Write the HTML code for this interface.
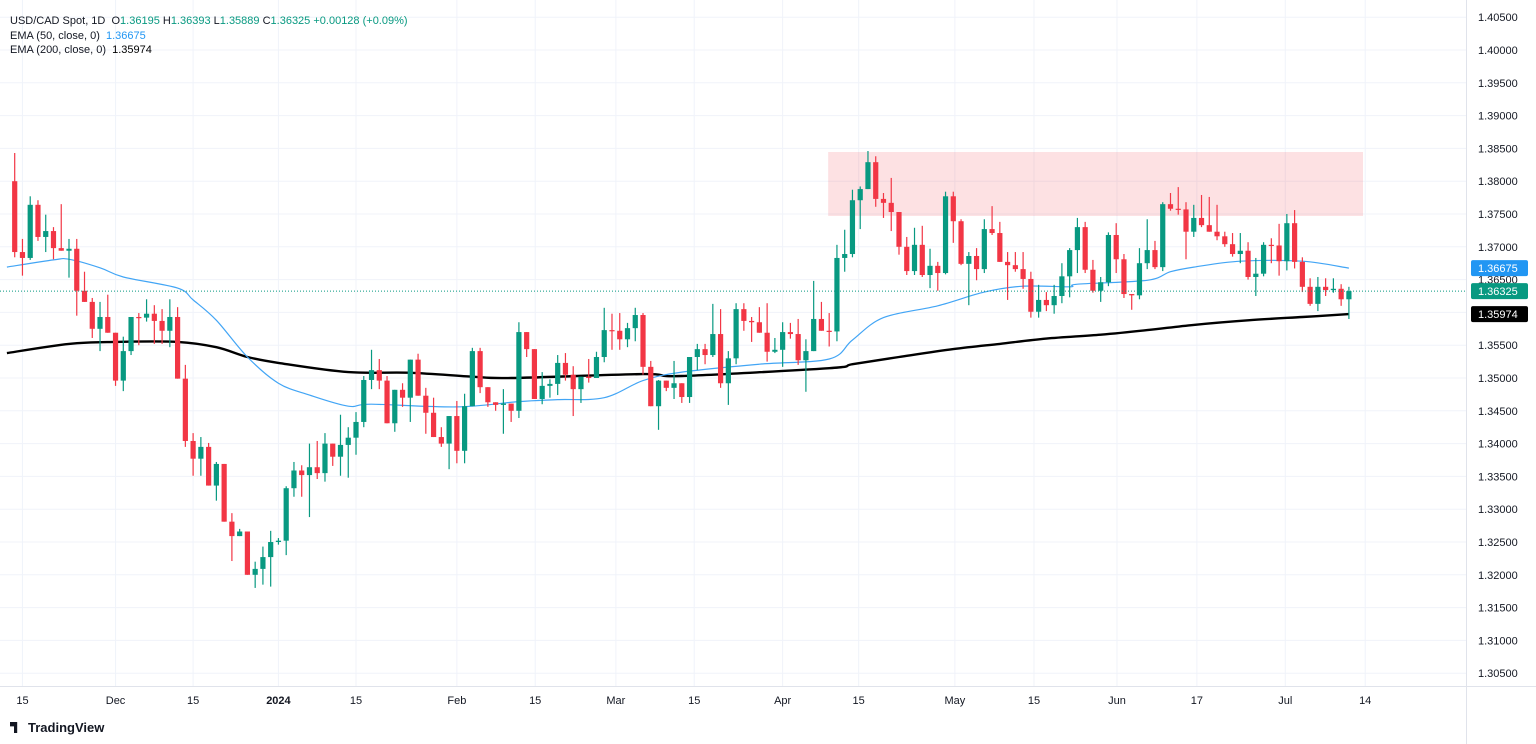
<!DOCTYPE html>
<html><head><meta charset="utf-8">
<style>
html,body{margin:0;padding:0;background:#fff;}
body{width:1536px;height:744px;overflow:hidden;position:relative;font-family:"Liberation Sans",sans-serif;}
#chart{position:absolute;left:0;top:0;}
.hdr{position:absolute;left:10px;font-size:11px;color:#131722;white-space:nowrap;}
.v{color:#089981;}
</style></head>
<body>
<svg id="chart" width="1536" height="744" xmlns="http://www.w3.org/2000/svg"></svg>
<div class="hdr" style="top:15px">USD/CAD Spot, 1D &nbsp;O<span class="v">1.36195</span> H<span class="v">1.36393</span> L<span class="v">1.35889</span> C<span class="v">1.36325</span> <span class="v">+0.00128 (+0.09%)</span></div>
<div class="hdr" style="top:30px">EMA (50, close, 0) &nbsp;<span style="color:#2196f3">1.36675</span></div>
<div class="hdr" style="top:44px">EMA (200, close, 0) &nbsp;<span style="color:#000">1.35974</span></div>
<div style="position:absolute;left:10px;top:720px;font-size:13px;color:#131722;font-weight:bold;display:flex;align-items:center;gap:4px"><span style="display:inline-block;width:16px;height:11px;background:#131722;clip-path:polygon(0 0,45% 0,45% 100%,25% 100%,25% 40%,0 40%,0 0,0 0);"></span><span style="margin-left:-2px">TradingView</span></div>
<script>
const closes=[1.3692,1.3683,1.3764,1.3715,1.3724,1.3698,1.3694,1.3697,1.3633,1.3616,1.3575,1.3593,1.3569,1.3496,1.3541,1.3593,1.3592,1.3598,1.3587,1.3572,1.3593,
1.3499,1.3404,1.3377,1.3395,1.3336,1.3369,1.3281,1.3259,1.3266,1.3200,1.3209,1.3227,1.3250,1.3252,1.3332,1.3359,1.3352,1.3364,1.3355,1.3400,1.3380,1.3398,
1.3409,1.3433,1.3497,1.3512,1.3496,1.3431,1.3482,1.3470,1.3528,1.3473,1.3447,1.3410,1.3400,1.3442,1.3389,1.3457,1.3541,1.3486,1.3463,1.3459,1.3461,1.3450,
1.3570,1.3544,1.3468,1.3488,1.3491,1.3523,1.3505,1.3483,1.3502,1.3500,1.3532,1.3573,1.3572,1.3559,1.3576,1.3596,1.3517,1.3457,1.3496,1.3485,1.3492,1.3471,
1.3532,1.3544,1.3535,1.3567,1.3492,1.3530,1.3605,1.3587,1.3585,1.3569,1.3540,1.3543,1.3570,1.3567,1.3527,1.3541,1.3590,1.3572,1.3571,1.3683,1.3689,1.3771,
1.3788,1.3829,1.3773,1.3767,1.3753,1.3700,1.3663,1.3703,1.3657,1.3671,1.3660,1.3777,1.3739,1.3674,1.3686,1.3666,1.3727,1.3721,1.3677,1.3672,1.3666,1.3651,
1.3601,1.3619,1.3611,1.3625,1.3655,1.3695,1.3730,1.3665,1.3633,1.3646,1.3718,1.3681,1.3628,1.3626,1.3675,1.3695,1.3669,1.3765,1.3758,1.3757,1.3723,
1.3744,1.3733,1.3723,1.3716,1.3704,1.3689,1.3694,1.3654,1.3659,1.3703,1.3702,1.3678,1.3736,1.3677,1.3639,1.3613,1.3639,1.3634,1.3636,1.3620,1.36325];
const highs=[1.3843,1.3712,1.3777,1.3771,1.3749,1.3730,1.3765,1.3712,1.3712,1.3662,1.3622,1.3616,1.3627,1.3569,1.3563,1.3593,1.3599,1.3620,1.3611,1.3605,1.3620,
1.3608,1.3520,1.3416,1.3410,1.3401,1.3372,1.3369,1.3294,1.3270,1.3266,1.3220,1.3243,1.3267,1.3256,1.3335,1.3372,1.3367,1.3400,1.3404,1.3416,1.3400,1.3444,
1.3425,1.3448,1.3503,1.3543,1.3529,1.3503,1.3482,1.3492,1.3528,1.3537,1.3485,1.3470,1.3425,1.3442,1.3465,1.3476,1.3546,1.3546,1.3486,1.3463,1.3483,1.3461,
1.3585,1.3570,1.3544,1.3509,1.3498,1.3535,1.3538,1.3518,1.3502,1.3529,1.3540,1.3607,1.3598,1.3599,1.3584,1.3607,1.3599,1.3526,1.3497,1.3496,1.3526,1.3492,
1.3532,1.3552,1.3552,1.3613,1.3605,1.3541,1.3614,1.3614,1.3593,1.3608,1.3614,1.3561,1.3585,1.3584,1.3590,1.3559,1.3648,1.3616,1.3599,1.3703,1.3726,1.3787,
1.3792,1.3846,1.3838,1.3782,1.3805,1.3753,1.3715,1.3729,1.3732,1.3697,1.3677,1.3784,1.3784,1.3742,1.3692,1.3698,1.3742,1.3762,1.3738,1.3692,1.3692,1.3692,
1.3662,1.3642,1.3631,1.3642,1.3675,1.3698,1.3744,1.3738,1.3680,1.3654,1.3722,1.3736,1.3689,1.3628,1.3698,1.3742,1.3709,1.3768,1.3782,1.3791,1.3768,
1.3764,1.3779,1.3776,1.3764,1.3723,1.3721,1.3721,1.3707,1.3683,1.3707,1.3713,1.3735,1.3750,1.3756,1.3684,1.3652,1.3654,1.3652,1.3652,1.3643,1.3639];
const lows=[1.3684,1.3656,1.3680,1.3709,1.3692,1.3681,1.3694,1.3653,1.3595,1.3616,1.3561,1.3541,1.3569,1.3488,1.3480,1.3535,1.3550,1.3586,1.3552,1.3552,1.3547,
1.3499,1.3395,1.3351,1.3351,1.3336,1.3313,1.3281,1.3221,1.3262,1.3200,1.3180,1.3185,1.3182,1.3246,1.3230,1.3319,1.3319,1.3288,1.3346,1.3342,1.3366,1.3351,
1.3348,1.3383,1.3425,1.3483,1.3483,1.3431,1.3418,1.3456,1.3433,1.3473,1.3415,1.3410,1.3395,1.3361,1.3370,1.3370,1.3463,1.3477,1.3456,1.3450,1.3415,1.3433,
1.3439,1.3532,1.3468,1.3460,1.3470,1.3474,1.3496,1.3442,1.3462,1.3493,1.3500,1.3524,1.3543,1.3543,1.3547,1.3556,1.3505,1.3457,1.3421,1.3480,1.3468,1.3462,
1.3462,1.3512,1.3521,1.3532,1.3485,1.3459,1.3521,1.3572,1.3555,1.3569,1.3525,1.3538,1.3517,1.3560,1.3520,1.3479,1.3541,1.3572,1.3548,1.3556,1.3662,1.3684,
1.3727,1.3788,1.3761,1.3744,1.3724,1.3688,1.3657,1.3657,1.3654,1.3637,1.3633,1.3658,1.3706,1.3672,1.3611,1.3649,1.3660,1.3718,1.3677,1.3619,1.3662,1.3636,
1.3592,1.3592,1.3602,1.3598,1.3614,1.3623,1.3660,1.3660,1.3630,1.3616,1.3640,1.3660,1.3622,1.3604,1.3620,1.3666,1.3666,1.3663,1.3755,1.3749,1.3681,
1.3715,1.3730,1.3723,1.3710,1.3700,1.3685,1.3675,1.3650,1.3625,1.3655,1.3675,1.3656,1.3664,1.3667,1.3631,1.3610,1.3602,1.3625,1.3630,1.3610,1.3590];
const firstOpen=1.3800;
const ema50Idx=[-1,5,7,11,14,21,23,26,30,34,38,43,46,57,65,70,76,81,86,96,105,108,112,119,125,130,136,137,146,149,152,158,166,172];
const ema50Val=[1.3669,1.3680,1.3681,1.3668,1.3654,1.3637,1.3619,1.3588,1.3532,1.3492,1.3474,1.3457,1.3460,1.3456,1.3464,1.3467,1.3470,1.3496,1.3509,1.3521,1.3529,1.3558,1.3592,1.3610,1.3631,1.3640,1.3639,1.3643,1.3649,1.3662,1.3669,1.3678,1.3678,1.36675];
const ema200Idx=[-1,7,13,21,26,30,34,43,51,59,64,81,86,105,108,114,121,127,133,140,146,152,159,166,172];
const ema200Val=[1.3538,1.3552,1.3555,1.3555,1.3547,1.3532,1.3523,1.3509,1.3508,1.3502,1.3500,1.3506,1.3503,1.3515,1.3521,1.3532,1.3544,1.3552,1.3560,1.3566,1.3573,1.3581,1.3588,1.3593,1.35974];
const yTicks=[1.3050,1.3100,1.3150,1.3200,1.3250,1.3300,1.3350,1.3400,1.3450,1.3500,1.3550,1.3600,1.3650,1.3700,1.3750,1.3800,1.3850,1.3900,1.3950,1.4000,1.4050];
const xTickLabels=['15','Dec','15','2024','15','Feb','15','Mar','15','Apr','15','May','15','Jun','17','Jul','14'];
const xTickIdx=[1,13,23,34,44,57,67.1,77.5,87.6,99,108.8,121.2,131.4,142.1,152.4,163.8,174.1];
const zoneTop=1.38445, zoneBottom=1.3747, zoneStartIdx=105;
const lastClose=1.36325, ema50Last=1.36675, ema200Last=1.35974;

const NS='http://www.w3.org/2000/svg';
const svg=document.getElementById('chart');
const PW=1466, PH=686;
function Y(p){return 50+(1.4-p)/0.05*328;}
function X(i){return 14.7+i*7.757;}
function mk(tag,attrs,parent){const e=document.createElementNS(NS,tag);for(const k in attrs)e.setAttribute(k,attrs[k]);(parent||svg).appendChild(e);return e;}
const defs=mk('defs',{});const cp=mk('clipPath',{id:'pc'},defs);mk('rect',{x:0,y:0,width:PW,height:PH},cp);

const grid=mk('g',{});


yTicks.forEach(t=>{mk('line',{x1:0,x2:PW,y1:Y(t),y2:Y(t),stroke:'#f0f3fa','stroke-width':1},grid);});
xTickIdx.forEach(i=>{mk('line',{x1:X(i),x2:X(i),y1:0,y2:PH,stroke:'#f0f3fa','stroke-width':1},grid);});
mk('line',{x1:PW+0.5,x2:PW+0.5,y1:0,y2:744,stroke:'#e0e3eb'});
mk('line',{x1:0,x2:1536,y1:PH+0.5,y2:PH+0.5,stroke:'#e0e3eb'});

const plot=mk('g',{'clip-path':'url(#pc)'});
const zone=mk('rect',{x:X(zoneStartIdx)-1,y:Y(zoneTop),width:1363-(X(zoneStartIdx)-1),height:Y(zoneBottom)-Y(zoneTop),fill:'rgba(242,54,69,0.15)'},plot);



function line(idx,val,color,w,name){
 const pts=idx.map((i,k)=>[X(i),Y(val[k])]);
 let d='M'+pts[0][0].toFixed(1)+','+pts[0][1].toFixed(1);
 for(let k=0;k<pts.length-1;k++){
  const p0=pts[Math.max(0,k-1)],p1=pts[k],p2=pts[k+1],p3=pts[Math.min(pts.length-1,k+2)];
  const c1=[p1[0]+(p2[0]-p0[0])/6,p1[1]+(p2[1]-p0[1])/6];
  const c2=[p2[0]-(p3[0]-p1[0])/6,p2[1]-(p3[1]-p1[1])/6];
  d+='C'+c1[0].toFixed(1)+','+c1[1].toFixed(1)+' '+c2[0].toFixed(1)+','+c2[1].toFixed(1)+' '+p2[0].toFixed(1)+','+p2[1].toFixed(1);
 }
 const p=mk('path',{d:d,fill:'none',stroke:color,'stroke-width':w,'stroke-linejoin':'round'},plot);
 
 }
line(ema200Idx,ema200Val,'#000',2.4,'ema200-line');
line(ema50Idx,ema50Val,'#42a5f5',1.2,'ema50-line');

const cg=mk('g',{},plot);


closes.forEach((c,i)=>{
 const o=i===0?firstOpen:closes[i-1];
 const up=c>=o;const col=up?'#089981':'#f23645';
 const h=Math.max(highs[i],o,c), l=Math.min(lows[i],o,c);
 const x=X(i);
 const g=mk('g',{},cg);
 
 
 mk('line',{x1:x,x2:x,y1:Y(h),y2:Y(l),stroke:col,'stroke-width':1.2},g);
 const top=Y(Math.max(o,c)),bh=Math.max(1.2,Y(Math.min(o,c))-top);
 mk('rect',{x:x-2.6,y:top,width:5.2,height:bh,fill:col},g);
});
const lp=mk('line',{x1:0,x2:PW,y1:Y(lastClose),y2:Y(lastClose),stroke:'#089981','stroke-width':1,'stroke-dasharray':'1,2'},svg);



yTicks.forEach(t=>{const tx=mk('text',{x:1478,y:Y(t)+4,'font-size':11,fill:'#131722','font-family':'Liberation Sans, sans-serif'});tx.textContent=t.toFixed(5);
 
 });
xTickLabels.forEach((s,k)=>{const tx=mk('text',{x:X(xTickIdx[k]),y:704,'font-size':11,fill:'#131722','text-anchor':'middle','font-family':'Liberation Sans, sans-serif','font-weight':s==='2024'?'bold':'normal'});tx.textContent=s;
 
 });
function badge(p,bg,name){const g=mk('g',{});
 
 
 mk('rect',{x:1471,y:Y(p)-8,width:57,height:16,rx:2,fill:bg},g);
 const t=mk('text',{x:1478,y:Y(p)+4,'font-size':11,fill:'#fff','font-family':'Liberation Sans, sans-serif'},g);t.textContent=p.toFixed(5);}
badge(ema50Last,'#2196f3','ema50-price-badge');
badge(lastClose,'#089981','last-price-badge');
badge(ema200Last,'#000000','ema200-price-badge');
</script>
</body></html>
